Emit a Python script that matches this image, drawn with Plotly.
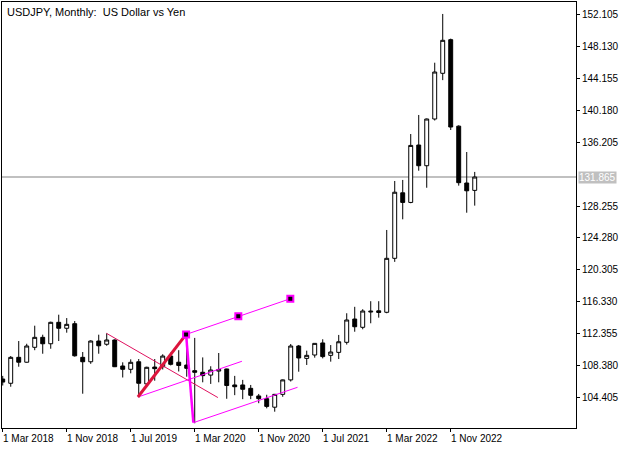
import plotly.graph_objects as go

# ---- data (monthly bars, index 0 = Mar 2018) ----
bar_index = list(range(60))
opens  = [106.71,106.18,109.41,108.80,110.66,111.90,111.10,113.77,113.03,113.60,
          109.41,108.86,111.44,111.04,111.57,108.33,107.92,108.86,106.10,108.20,
          108.24,109.57,108.80,108.45,107.75,107.55,107.20,107.70,107.96,105.97,
          105.97,105.55,104.60,104.26,103.20,104.80,106.60,110.82,109.28,109.70,
          111.20,109.66,110.03,111.28,114.18,113.15,115.05,115.20,115.02,121.74,
          129.90,128.70,135.85,133.27,139.09,144.78,148.97,138.20,131.12,130.20]
highs  = [107.10,109.57,111.44,111.10,113.35,112.23,113.85,114.72,114.30,113.93,
          110.07,111.53,112.23,112.40,111.65,108.79,109.16,109.20,108.24,109.20,
          109.79,110.00,110.30,112.25,111.83,109.40,108.30,109.95,108.00,107.10,
          106.60,105.97,104.85,104.75,104.85,106.65,111.07,110.95,110.24,111.15,
          111.66,110.94,112.20,114.90,115.70,115.40,116.40,116.40,125.27,131.37,
          131.50,137.22,139.59,139.15,146.10,152.17,149.10,138.30,134.98,132.50]
lows   = [105.90,105.75,108.24,108.75,110.30,109.86,110.48,111.44,112.48,109.50,
          104.88,108.60,109.86,110.85,108.20,106.90,107.42,104.45,105.95,106.50,
          107.90,108.40,107.65,107.00,101.20,106.30,106.10,106.30,104.25,104.70,
          104.20,104.20,103.70,103.06,102.64,104.50,106.40,107.62,108.46,109.37,
          109.28,108.87,109.20,111.00,112.60,112.90,113.65,114.35,114.90,121.30,
          126.60,128.60,132.65,130.53,138.90,143.93,137.72,130.79,127.42,128.30]
closes = [106.33,109.41,108.80,110.82,111.90,111.10,113.77,113.03,113.52,109.60,
          108.86,111.44,110.85,111.57,108.24,107.92,108.79,106.18,108.17,108.00,
          109.57,108.54,108.40,108.04,107.55,107.13,107.83,107.90,105.90,105.75,
          105.43,104.68,104.26,103.30,104.80,106.60,110.82,109.33,109.66,111.15,
          109.50,110.07,111.35,114.06,113.22,115.18,115.15,115.00,121.74,129.97,
          128.70,135.80,133.27,139.09,144.94,148.89,138.09,131.16,130.15,131.865]

x_tick_pos = [0, 8, 16, 24, 32, 40, 48, 56]
x_tick_labels = ["1 Mar 2018", "1 Nov 2018", "1 Jul 2019", "1 Mar 2020",
                 "1 Nov 2020", "1 Jul 2021", "1 Mar 2022", "1 Nov 2022"]
y_tick_vals = [104.405, 108.380, 112.355, 116.330, 120.305, 124.280,
               128.255, 136.205, 140.180, 144.155, 148.130, 152.105]
y_tick_text = ["%.3f" % v for v in y_tick_vals]
current_price = 131.865
title_text = "USDJPY, Monthly:  US Dollar vs Yen"

# drawing objects (bar index, price)
red_thin_x = [12.97, 26.9];   red_thin_y = [112.40, 104.40]
red_thick_x = [16.9, 22.92];  red_thick_y = [104.47, 112.26]
mag_thick_x = [22.92, 23.83]; mag_thick_y = [112.26, 101.27]
median_x = [16.9, 29.9];      median_y = [104.47, 108.92]
upper_x = [22.92, 35.95];     upper_y = [112.26, 116.71]
lower_x = [23.83, 36.85];     lower_y = [101.27, 105.68]
pts_x = [22.92, 29.45, 35.95]; pts_y = [112.26, 114.52, 116.71]

FONT = "Liberation Sans"

fig = go.Figure()
fig.add_trace(go.Candlestick(
    x=bar_index, open=opens, high=highs, low=lows, close=closes,
    increasing=dict(line=dict(color="black", width=1), fillcolor="white"),
    decreasing=dict(line=dict(color="black", width=1), fillcolor="black"),
    whiskerwidth=0, showlegend=False, hoverinfo="skip"))

def line(x, y, color, width):
    fig.add_trace(go.Scatter(x=x, y=y, mode="lines", showlegend=False,
                             line=dict(color=color, width=width), hoverinfo="skip"))

line(red_thin_x, red_thin_y, "#E0115F", 1)
line(median_x, median_y, "#FF00FF", 1)
line(upper_x, upper_y, "#FF00FF", 1)
line(lower_x, lower_y, "#FF00FF", 1)
line(red_thick_x, red_thick_y, "#DC143C", 3)
line(mag_thick_x, mag_thick_y, "#FF00FF", 2.5)
fig.add_trace(go.Scatter(x=pts_x, y=pts_y, mode="markers", showlegend=False,
                         marker=dict(symbol="square", size=6, color="black",
                                     line=dict(color="#FF00FF", width=2)),
                         hoverinfo="skip"))

fig.add_shape(type="line", xref="paper", yref="y", x0=0, x1=1,
              y0=current_price, y1=current_price,
              line=dict(color="#C0C0C0", width=2), layer="below")

annotations = [dict(text=title_text, xref="paper", yref="paper", x=0, y=1,
                    xanchor="left", yanchor="top", xshift=3, yshift=-2,
                    showarrow=False, font=dict(family=FONT, size=11, color="black"))]
for pos, lab in zip(x_tick_pos, x_tick_labels):
    annotations.append(dict(text=lab, x=pos, y=0, xref="x", yref="paper",
                            xanchor="left", yanchor="top", xshift=-2, yshift=-3,
                            showarrow=False,
                            font=dict(family=FONT, size=10, color="black")))
annotations.append(dict(text="%.3f" % current_price, x=1, y=current_price,
                        xref="paper", yref="y", xanchor="left", yanchor="middle",
                        xshift=2, showarrow=False, bgcolor="#C0C0C0",
                        borderpad=0,
                        font=dict(family=FONT, size=10, color="white")))

fig.update_layout(
    width=629, height=450,
    margin=dict(l=2, r=53, t=2, b=22, autoexpand=False),
    paper_bgcolor="white", plot_bgcolor="white",
    annotations=annotations,
    xaxis=dict(range=[-0.09, 71.66], rangeslider=dict(visible=False),
               automargin=False,
               showgrid=False, zeroline=False, showline=True, mirror=True,
               linecolor="black", linewidth=1,
               tickvals=x_tick_pos, showticklabels=False,
               ticks="outside", ticklen=3, tickcolor="black"),
    yaxis=dict(range=[100.61, 153.66], side="right", automargin=False,
               showgrid=False, zeroline=False, showline=True, mirror=True,
               linecolor="black", linewidth=1,
               tickvals=y_tick_vals, ticktext=y_tick_text,
               ticks="outside", ticklen=3, tickcolor="black",
               tickfont=dict(family=FONT, size=10, color="black")),
)

fig.write_html("out.html", config={"displayModeBar": False},
               post_script="document.body.style.margin='0px';document.body.style.overflow='hidden';")
